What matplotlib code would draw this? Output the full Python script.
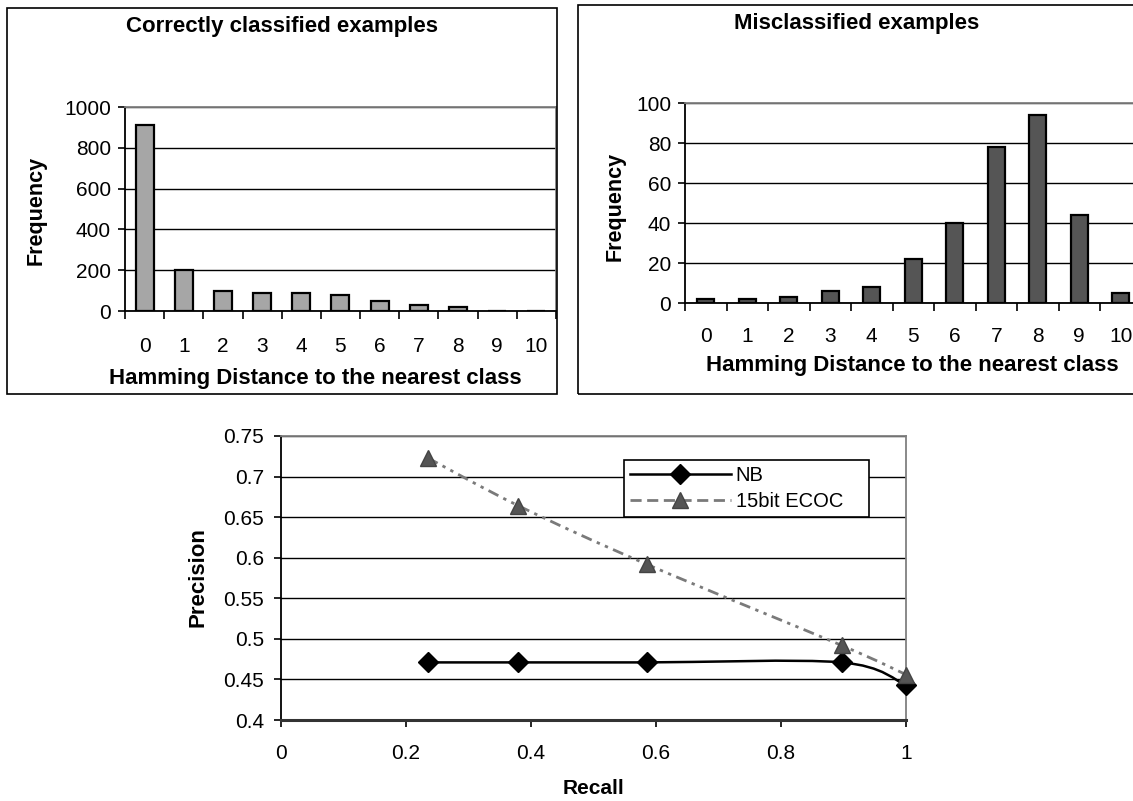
import numpy as np
import matplotlib.pyplot as plt
from matplotlib.patches import Rectangle, PathPatch
from matplotlib.path import Path
from matplotlib.lines import Line2D

plt.rcParams['font.family'] = ['Liberation Sans', 'DejaVu Sans']

# histogram data
distances = list(range(11))
correct_freq = [910, 200, 100, 90, 90, 80, 50, 30, 20, 0, 0]
mis_freq = [2, 2, 3, 6, 8, 22, 40, 78, 94, 44, 5]

# precision / recall data
recall = [0.235, 0.38, 0.585, 0.897, 1.0]
prec_nb = [0.471, 0.471, 0.471, 0.471, 0.443]
prec_ecoc = [0.723, 0.664, 0.592, 0.492, 0.456]

fig = plt.figure(figsize=(11.33, 8.01), dpi=100)

# boxes round the two upper charts
fig.patches.append(Rectangle((0.0062, 0.5081), 0.4854, 0.4819, transform=fig.transFigure,
                             fill=False, edgecolor='black', lw=1.2))
fig.patches.append(Rectangle((0.5102, 0.5081), 0.5, 0.4856, transform=fig.transFigure,
                             fill=False, edgecolor='black', lw=1.2))


def excel_frame(ax):
    ax.spines['left'].set_color('black')
    ax.spines['bottom'].set_color('black')
    ax.spines['top'].set_color('#808080')
    ax.spines['right'].set_color('#808080')
    for s in ax.spines.values():
        s.set_linewidth(1.3)


def hist_panel(rect, values, color, ymax, step, width, pad):
    ax = fig.add_axes(rect)
    ax.bar(distances, values, width=width, color=color, edgecolor='black', lw=1.6, zorder=3)
    ax.set_xlim(-0.5, 10.5)
    ax.set_ylim(0, ymax)
    ax.set_yticks(np.arange(0, ymax + 1, step))
    ax.yaxis.grid(True, color='black', lw=1)
    ax.set_axisbelow(True)
    ax.set_xticks(distances)
    ax.set_xticks(np.arange(-0.5, 11, 1), minor=True)
    ax.tick_params(axis='x', which='major', length=0, pad=pad, labelsize=15)
    ax.tick_params(axis='x', which='minor', length=6, direction='out', width=1.2)
    ax.tick_params(axis='y', length=5, direction='out', width=1.2, pad=5, labelsize=15)
    excel_frame(ax)
    return ax


ax1 = hist_panel([0.1103, 0.6117, 0.3804, 0.2547], correct_freq, '#a6a6a6', 1000, 200, 0.46, 19)
ax2 = hist_panel([0.6046, 0.6217, 0.4029, 0.2497], mis_freq, '#555555', 100, 20, 0.42, 17)

fig.text(0.249, 0.967, 'Correctly classified examples', ha='center', va='center',
         fontsize=16, fontweight='bold')
fig.text(0.7565, 0.971, 'Misclassified examples', ha='center', va='center',
         fontsize=16, fontweight='bold')
fig.text(0.278, 0.528, 'Hamming Distance to the nearest class', ha='center', va='center',
         fontsize=16, fontweight='bold')
fig.text(0.805, 0.544, 'Hamming Distance to the nearest class', ha='center', va='center',
         fontsize=16, fontweight='bold')
fig.text(0.032, 0.737, 'Frequency', rotation=90, ha='center', va='center',
         fontsize=15.5, fontweight='bold')
fig.text(0.543, 0.742, 'Frequency', rotation=90, ha='center', va='center',
         fontsize=15.5, fontweight='bold')


def smooth_path(xs, ys):
    pts = np.column_stack([xs, ys])
    verts = [pts[0]]
    codes = [Path.MOVETO]
    for i in range(len(pts) - 1):
        p0 = pts[i - 1] if i > 0 else pts[i]
        p1, p2 = pts[i], pts[i + 1]
        p3 = pts[i + 2] if i + 2 < len(pts) else pts[i + 1]
        verts += [p1 + (p2 - p0) / 6, p2 - (p3 - p1) / 6, p2]
        codes += [Path.CURVE4] * 3
    return Path(verts, codes)


# precision / recall chart
ax3 = fig.add_axes([0.248, 0.1011, 0.5516, 0.3546])
ax3.add_patch(PathPatch(smooth_path(recall, prec_nb), fill=False, edgecolor='black', lw=1.8, zorder=3))
ax3.add_patch(PathPatch(smooth_path(recall, prec_ecoc), fill=False, edgecolor='#7a7a7a', lw=2,
                        linestyle=(0, (4, 2, 1.2, 2, 1.2, 2)), zorder=3))
ax3.plot(recall, prec_nb, linestyle='none', marker='D', markersize=10, color='black', zorder=4,
         clip_on=False)
ax3.plot(recall, prec_ecoc, linestyle='none', marker='^', markersize=12, color='#555555',
         markeredgecolor='#444444', zorder=5, clip_on=False)
ax3.set_xlim(0, 1)
ax3.set_ylim(0.4, 0.75)
ax3.set_xticks([0, 0.2, 0.4, 0.6, 0.8, 1])
ax3.set_xticklabels(['0', '0.2', '0.4', '0.6', '0.8', '1'])
ax3.set_yticks([0.4, 0.45, 0.5, 0.55, 0.6, 0.65, 0.7, 0.75])
ax3.set_yticklabels(['0.4', '0.45', '0.5', '0.55', '0.6', '0.65', '0.7', '0.75'])
ax3.yaxis.grid(True, color='black', lw=1)
ax3.set_axisbelow(True)
ax3.tick_params(axis='both', length=5, direction='out', width=1.2, labelsize=15)
ax3.tick_params(axis='x', pad=12)
ax3.tick_params(axis='y', pad=7)
excel_frame(ax3)
ax3.spines['bottom'].set_linewidth(2.2)
ax3.spines['bottom'].set_color('#333333')
fig.text(0.5234, 0.0162, 'Recall', ha='center', va='center', fontsize=15, fontweight='bold')
fig.text(0.1748, 0.2797, 'Precision', rotation=90, ha='center', va='center',
         fontsize=16, fontweight='bold')

handles = [
    Line2D([], [], color='black', lw=1.8, marker='D', markersize=10),
    Line2D([], [], color='#7a7a7a', lw=2, linestyle=(0, (4, 2)), marker='^', markersize=12,
           markerfacecolor='#555555', markeredgecolor='#444444'),
]
leg = ax3.legend(handles, ['NB', '15bit ECOC'], loc='upper left',
                 bbox_to_anchor=(0.5488, 0.7148, 0.392, 0.2007), mode='expand',
                 fancybox=False, edgecolor='black', framealpha=1, fontsize=14.5,
                 handlelength=5, handletextpad=0.25, borderpad=0.3, labelspacing=0.35,
                 borderaxespad=0)
leg.get_frame().set_linewidth(1.2)

fig.savefig('out.png', dpi=100)
